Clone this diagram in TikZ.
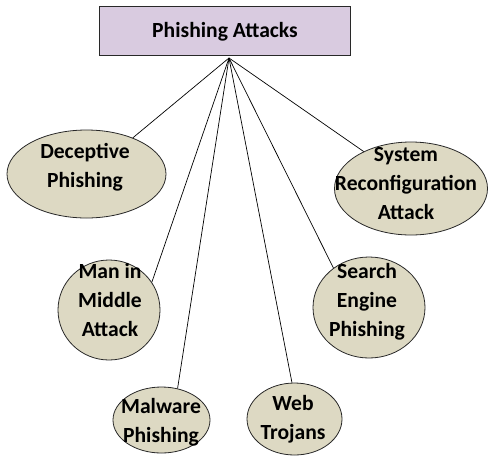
\documentclass[tikz,border=0pt]{standalone}
\usepackage{fontspec}
\setmainfont{Carlito}
\usetikzlibrary{shapes.geometric}
\definecolor{boxfill}{RGB}{217,203,224}
\definecolor{bubblefill}{RGB}{221,217,195}
\definecolor{edgegray}{RGB}{40,40,40}
\begin{document}
\begin{tikzpicture}[x=1pt,y=-1pt,
  rootbox/.style={draw=edgegray, fill=boxfill, line width=0.9pt, inner sep=0pt},
  bubble/.style={ellipse, draw=edgegray, line width=0.8pt, fill=bubblefill, inner sep=0pt},
  lbl/.style={font=\fontsize{21.6}{29}\selectfont\bfseries, align=center, inner sep=0pt},
  link/.style={draw=black, line width=0.7pt}]
\useasboundingbox (0,0) rectangle (489,464);

% root box
\node[rootbox, minimum width=251pt, minimum height=49pt] (root) at (224.5,30.5) {};
\node[lbl] (rootText) at (225,32) {Phishing Attacks};
\coordinate (hub) at (229,58);

% attack types
\node[bubble, minimum width=159pt, minimum height=88pt]  (dec) at (86.5,174) {};
\node[bubble, minimum width=153pt, minimum height=93pt]  (sys) at (411,188.5) {};
\node[bubble, minimum width=102pt, minimum height=100pt] (man) at (109,310) {};
\node[bubble, minimum width=112pt, minimum height=101pt] (sea) at (369,307.5) {};
\node[bubble, minimum width=97pt,  minimum height=66pt]  (mal) at (161.5,420) {};
\node[bubble, minimum width=95pt,  minimum height=72pt]  (web) at (294.5,419) {};

\node[lbl] (decText) at (85,167)  {Deceptive\\Phishing};
\node[lbl] (sysText) at (406,183) {System\\Reconfiguration\\Attack};
\node[lbl] (manText) at (110,300) {Man in\\Middle\\Attack};
\node[lbl] (seaText) at (367,302) {Search\\Engine\\Phishing};
\node[lbl] (malText) at (161,422) {Malware\\Phishing};
\node[lbl] (webText) at (293,419) {Web\\Trojans};

% connectors from the hub
\draw[link] (hub) -- (dec.38);
\draw[link] (hub) -- (sys.142);
\draw[link] (hub) -- (man.33);
\draw[link] (hub) -- (sea.132);
\draw[link] (hub) -- (mal.63);
\draw[link] (hub) -- (web.94);
\end{tikzpicture}
\end{document}
